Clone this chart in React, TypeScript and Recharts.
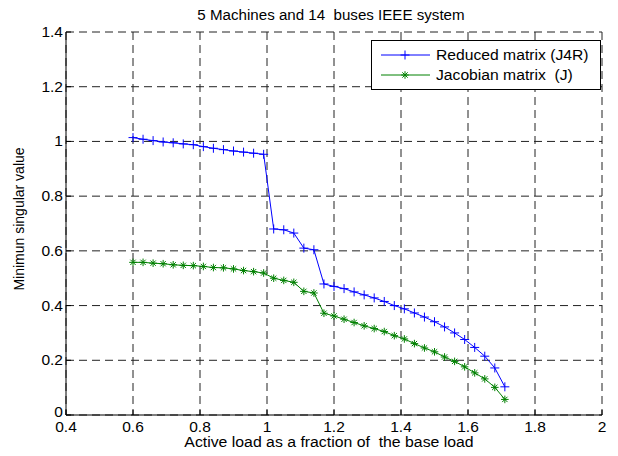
import { CartesianGrid, Legend, Line, LineChart, XAxis, YAxis } from "recharts";

const loadFraction = [
	0.6, 0.63, 0.66, 0.69, 0.72, 0.75, 0.78, 0.81, 0.84, 0.87, 0.9, 0.93, 0.96,
	0.99, 1.02, 1.05, 1.08, 1.11, 1.14, 1.17, 1.2, 1.23, 1.26, 1.29, 1.32, 1.35,
	1.38, 1.41, 1.44, 1.47, 1.5, 1.53, 1.56, 1.59, 1.62, 1.65, 1.68, 1.71,
];

// Reduced matrix (J4R)
const reducedMatrix = [
	1.014, 1.008, 1.003, 0.998, 0.995, 0.991, 0.988, 0.981, 0.975, 0.97, 0.965,
	0.961, 0.957, 0.953, 0.68, 0.677, 0.665, 0.61, 0.604, 0.479, 0.47, 0.462,
	0.45, 0.439, 0.428, 0.415, 0.4, 0.388, 0.373, 0.358, 0.341, 0.322, 0.3, 0.276,
	0.247, 0.215, 0.172, 0.103,
];

// Jacobian matrix (J)
const jacobianMatrix = [
	0.558, 0.558, 0.555, 0.553, 0.549, 0.547, 0.546, 0.543, 0.539, 0.538, 0.534,
	0.528, 0.524, 0.519, 0.5, 0.492, 0.485, 0.452, 0.446, 0.372, 0.362, 0.35,
	0.338, 0.326, 0.316, 0.305, 0.29, 0.278, 0.261, 0.245, 0.231, 0.212, 0.196,
	0.176, 0.154, 0.132, 0.101, 0.057,
];

const xTicks = [0.4, 0.6, 0.8, 1, 1.2, 1.4, 1.6, 1.8, 2];
const yTicks = [0, 0.2, 0.4, 0.6, 0.8, 1, 1.2, 1.4];

const data = loadFraction.map((x, i) => ({
	x,
	reduced: reducedMatrix[i],
	jacobian: jacobianMatrix[i],
}));

const FONT = '"Liberation Sans", Arial, sans-serif';
const BLUE = "#0000ff";
const GREEN = "#008000";
// the original figure is a little stretched sideways
const STRETCH = 1.11;

function plusPath(cx: number, cy: number, r = 4.5) {
	return `M${cx - r},${cy}H${cx + r}M${cx},${cy - r}V${cy + r}`;
}

function starPath(cx: number, cy: number, r = 3.8) {
	const d = r * 0.7;
	return (
		`M${cx - r},${cy}H${cx + r}M${cx},${cy - r}V${cy + r}` +
		`M${cx - d},${cy - d}L${cx + d},${cy + d}M${cx - d},${cy + d}L${cx + d},${cy - d}`
	);
}

function PlusDot(p: any) {
	if (p.cx == null || p.cy == null) return null;
	return (
		<path key={`p${p.index}`} d={plusPath(p.cx, p.cy)} stroke={BLUE} strokeWidth={1} fill="none" />
	);
}

function StarDot(p: any) {
	if (p.cx == null || p.cy == null) return null;
	return (
		<path key={`s${p.index}`} d={starPath(p.cx, p.cy)} stroke={GREEN} strokeWidth={1} fill="none" />
	);
}

function XTick({ x, y, payload }: any) {
	return (
		<text
			transform={`translate(${x},${y}) scale(${STRETCH},1)`}
			textAnchor="middle"
			dy="0.71em"
			fill="#000"
			fontSize={14}
			fontFamily={FONT}
		>
			{String(payload.value)}
		</text>
	);
}

function YTick({ x, y, payload }: any) {
	// nudge the bottom label up a touch so it clears the x tick label
	const shift = payload.value === 0 ? -3 : 0;
	return (
		<text
			transform={`translate(${x},${y + shift}) scale(${STRETCH},1)`}
			textAnchor="end"
			dy="0.355em"
			fill="#000"
			fontSize={14}
			fontFamily={FONT}
		>
			{String(payload.value)}
		</text>
	);
}

function LegendBox() {
	const rows = [
		{ label: "Reduced matrix (J4R)", color: BLUE, marker: plusPath(33, 8) },
		{ label: "Jacobian matrix  (J)", color: GREEN, marker: starPath(33, 8) },
	];
	return (
		<div
			style={{
				width: 228,
				height: 44,
				border: "1px solid #000",
				background: "#fff",
				fontFamily: FONT,
				fontSize: 14,
				color: "#000",
				paddingTop: 4,
				boxSizing: "content-box",
			}}
		>
			{rows.map((r) => (
				<div key={r.label} style={{ display: "flex", alignItems: "center", height: 20 }}>
					<svg width={64} height={16} style={{ display: "block" }}>
						<line x1={9} x2={58} y1={8} y2={8} stroke={r.color} strokeWidth={1} />
						<path d={r.marker} stroke={r.color} strokeWidth={1} fill="none" />
					</svg>
					<span
						style={{
							whiteSpace: "pre",
							display: "inline-block",
							transform: `scaleX(${STRETCH + 0.01})`,
							transformOrigin: "left center",
							lineHeight: "16px",
						}}
					>
						{r.label}
					</span>
				</div>
			))}
		</div>
	);
}

const labelStyle = {
	position: "absolute" as const,
	fontFamily: FONT,
	fontSize: 14,
	lineHeight: "16px",
	whiteSpace: "pre" as const,
	color: "#000",
};

export default function App() {
	return (
		<div style={{ position: "absolute", left: 0, top: 0, width: 618, height: 456, background: "#fff" }}>
			<LineChart
				width={618}
				height={456}
				data={data}
				margin={{ top: 32, right: 16, bottom: 11, left: 26 }}
			>
				<CartesianGrid stroke="#222" strokeDasharray="8 5" strokeWidth={1} />
				<XAxis
					type="number"
					dataKey="x"
					domain={[0.4, 2]}
					ticks={xTicks}
					height={30}
					tick={<XTick />}
					tickSize={-5}
					tickMargin={12}
					stroke="#000"
					interval={0}
				/>
				<XAxis
					xAxisId="top"
					orientation="top"
					type="number"
					dataKey="x"
					domain={[0.4, 2]}
					ticks={xTicks}
					height={0}
					tickSize={-5}
					tickFormatter={() => ""}
					stroke="#000"
					interval={0}
				/>
				<YAxis
					type="number"
					domain={[0, 1.4]}
					ticks={yTicks}
					width={40}
					tick={<YTick />}
					tickSize={-5}
					tickMargin={8}
					stroke="#000"
					interval={0}
				/>
				<YAxis
					yAxisId="right"
					orientation="right"
					type="number"
					domain={[0, 1.4]}
					ticks={yTicks}
					width={0}
					tickSize={-5}
					tickFormatter={() => ""}
					stroke="#000"
					interval={0}
				/>
				<Legend
					layout="horizontal"
					verticalAlign="middle"
					align="center"
					content={() => <LegendBox />}
					wrapperStyle={{ position: "absolute", left: 371, top: 40, width: 230, height: 49 }}
				/>
				<Line
					dataKey="reduced"
					stroke={BLUE}
					strokeWidth={1}
					dot={PlusDot}
					activeDot={false}
					isAnimationActive={false}
				/>
				<Line
					dataKey="jacobian"
					stroke={GREEN}
					strokeWidth={1}
					dot={StarDot}
					activeDot={false}
					isAnimationActive={false}
				/>
			</LineChart>
			<div style={{ ...labelStyle, left: 331, top: 7, transform: `translateX(-50%) scaleX(1.08)` }}>
				5 Machines and 14  buses IEEE system
			</div>
			<div style={{ ...labelStyle, left: 329, top: 434, transform: `translateX(-50%) scaleX(1.13)` }}>
				Active load as a fraction of  the base load
			</div>
			<div
				style={{
					...labelStyle,
					left: 19,
					top: 219,
					transform: "translate(-50%, -50%) rotate(-90deg)",
				}}
			>
				Minimun singular value
			</div>
		</div>
	);
}
